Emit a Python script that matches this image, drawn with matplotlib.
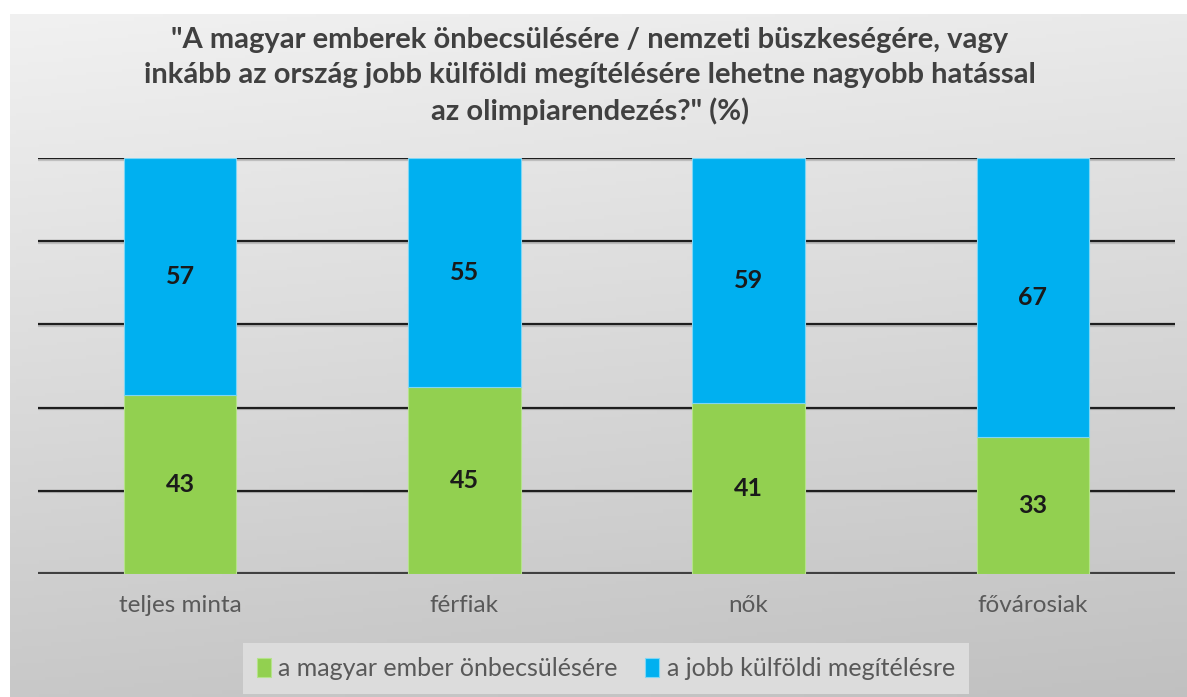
import numpy as np
import matplotlib.pyplot as plt
import matplotlib.patheffects as pe

plt.rcParams['font.family'] = ['Lato', 'DejaVu Sans']

categories = ['teljes minta', 'férfiak', 'nők', 'fővárosiak']
onbecsules = [43, 45, 41, 33]
kulfoldi = [57, 55, 59, 67]
series_names = ['a magyar ember önbecsülésére', 'a jobb külföldi megítélésre']
title = ('"A magyar emberek önbecsülésére / nemzeti büszkeségére, vagy\n'
         'inkább az ország jobb külföldi megítélésére lehetne nagyobb hatással\n'
         'az olimpiarendezés?" (%)')

W, H = 1187, 697
fig = plt.figure(figsize=(W / 100, H / 100), dpi=100)
fig.patch.set_facecolor('white')

# gradient background of the chart area
bg = fig.add_axes([10 / W, 0, 1 - 10 / W, 1 - 14 / H], zorder=-5)
yy, xx = np.mgrid[0:1:200j, 0:1:200j]
shade = 0.945 - 0.16 * yy - 0.03 * xx
bg.imshow(np.dstack([shade] * 3), aspect='auto', extent=[0, 1, 1, 0])
bg.axis('off')

ax = fig.add_axes([38 / W, 1 - 574 / H, (1175 - 38) / W, (574 - 158) / H])
ax.patch.set_alpha(0)
x = np.arange(len(categories))
w = 0.395

shadow = [pe.SimpleLineShadow(offset=(0, -1.2), shadow_color='#999999', alpha=0.5), pe.Normal()]
for g in [20, 40, 60, 80, 100]:
    ax.axhline(g, color='#1e1e1e', lw=1.6, zorder=1, path_effects=shadow)
ax.axhline(0, color='#404040', lw=3, zorder=1, path_effects=shadow)

b1 = ax.bar(x, onbecsules, w, color='#92d050', edgecolor='#b5e38a', lw=0.8, zorder=2,
            label=series_names[0])
b2 = ax.bar(x, kulfoldi, w, bottom=onbecsules, color='#00b0f0', edgecolor='#7fd6f5', lw=0.8,
            zorder=2, label=series_names[1])

for i in range(len(categories)):
    ax.text(x[i], onbecsules[i] / 2, str(onbecsules[i]), ha='center', va='center',
            fontsize=18, fontweight='bold', color='#1a1a1a')
    ax.text(x[i], onbecsules[i] + kulfoldi[i] / 2, str(kulfoldi[i]), ha='center', va='center',
            fontsize=18, fontweight='bold', color='#1a1a1a')

ax.set_xlim(-0.5, len(categories) - 0.5)
ax.set_ylim(0, 100)
ax.set_xticks(x)
ax.set_xticklabels(categories, fontsize=17.5, color='#595959')
ax.tick_params(axis='x', length=0, pad=15)
ax.set_yticks([])
for s in ax.spines.values():
    s.set_visible(False)

fig.text(0.497, 1 - 76 / H, title, ha='center', va='center', fontsize=21,
         fontweight='bold', color='#404040', linespacing=1.42)

leg = ax.legend(handles=[b1, b2], loc='upper center', bbox_to_anchor=(606 / W, 1 - 643 / H),
                bbox_transform=fig.transFigure, ncol=2, frameon=True, fancybox=False,
                facecolor='#dcdcdc', edgecolor='none', framealpha=1, fontsize=18,
                handlelength=0.55, handleheight=0.8, handletextpad=0.3, columnspacing=1.1,
                borderpad=0.55, borderaxespad=0)
for t in leg.get_texts():
    t.set_color('#595959')

fig.savefig('out.png', dpi=100)
